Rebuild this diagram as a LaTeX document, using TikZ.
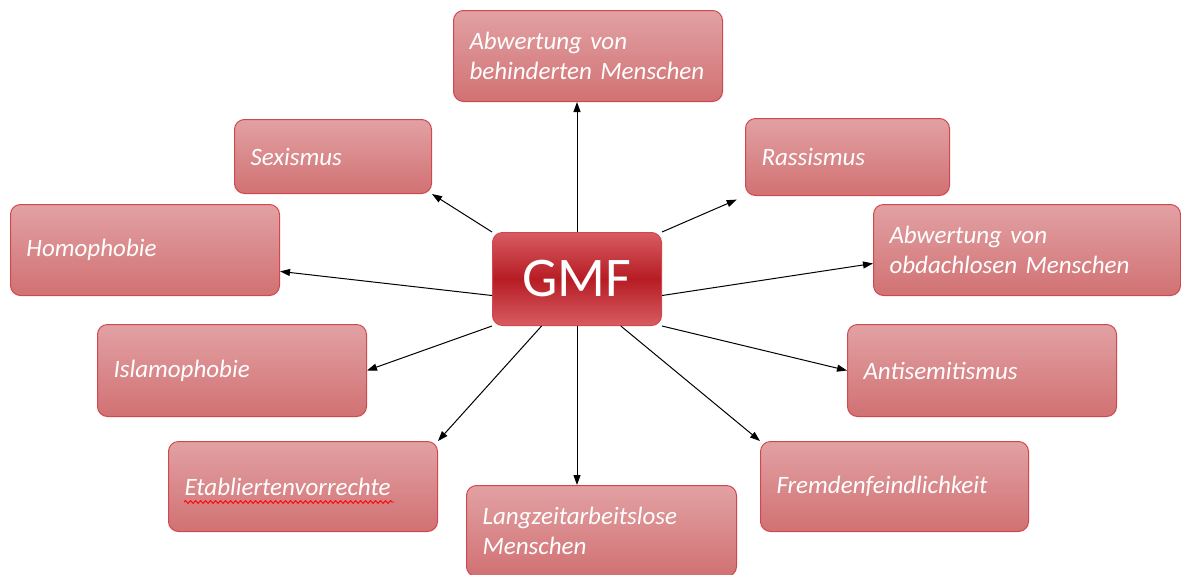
\documentclass[tikz,border=0pt]{standalone}
\usepackage{fontspec}
\setmainfont{Carlito}
\usetikzlibrary{arrows.meta,decorations.pathmorphing}
\definecolor{boxtop}{RGB}{226,161,163}
\definecolor{boxbot}{RGB}{209,113,115}
\definecolor{boxline}{RGB}{208,72,78}
\definecolor{gmfmid}{RGB}{183,28,36}
\definecolor{gmfout}{RGB}{215,92,97}

\begin{document}
\begin{tikzpicture}[x=1pt,y=-1pt,
  box/.style={draw=boxline, line width=1pt, rounded corners=10pt,
    top color=boxtop, bottom color=boxbot, text=white, anchor=north west,
    inner xsep=16pt, align=left, font=\fontsize{25}{30}\selectfont\itshape},
  gmf/.style={draw=boxline, line width=1pt, rounded corners=10pt,
    top color=gmfout, bottom color=gmfout, middle color=gmfmid, text=white,
    anchor=north west, minimum width=169pt, minimum height=93pt,
    font=\fontsize{56}{60}\selectfont},
  arr/.style={-{Triangle[length=10pt,width=7pt]}, line width=1pt}]
\useasboundingbox (0,0) rectangle (1181,574);

\node[gmf] (gmf) at (492,232) {GMF};

\node[box, minimum width=269pt, minimum height=91pt, text width=237pt] (beh) at (453,10) {Abwertung von\\behinderten Menschen};
\node[box, minimum width=197pt, minimum height=74pt, text width=165pt] (sex) at (234,119) {Sexismus};
\node[box, minimum width=204pt, minimum height=77pt, text width=172pt] (ras) at (745,118) {Rassismus};
\node[box, minimum width=269pt, minimum height=91pt, text width=237pt] (homo) at (10,204) {Homophobie};
\node[box, minimum width=307pt, minimum height=91pt, text width=275pt] (obd) at (873,204) {Abwertung von\\obdachlosen Menschen};
\node[box, minimum width=269pt, minimum height=92pt, text width=237pt] (isl) at (97,324) {Islamophobie};
\node[box, minimum width=269pt, minimum height=92pt, text width=237pt] (anti) at (847,324) {Antisemitismus};
\node[box, minimum width=269pt, minimum height=90pt, text width=237pt] (etab) at (168,441) {Etabliertenvorrechte};
\node[box, minimum width=268pt, minimum height=90pt, text width=236pt] (frem) at (760,441) {Fremdenfeindlichkeit};
\node[box, minimum width=270pt, minimum height=91pt, text width=238pt] (lang) at (466,485) {Langzeitarbeitslose\\Menschen};

% spell check underline
\draw[red, line width=0.9pt, decorate, decoration={snake, amplitude=1.4pt, segment length=5pt}] (184,502) -- (394,502);

\draw[arr] (gmf.north) -- (gmf.north |- beh.south);
\draw[arr] (gmf.north west) -- (sex.south east);
\draw[arr, shorten >=9pt] (gmf.north east) -- (ras.south west);
\draw[arr] (gmf.191) -- (homo.-9);
\draw[arr] (gmf.-11) -- (obd.185);
\draw[arr] (gmf.south west) -- (isl.east);
\draw[arr] (gmf.south east) -- (anti.west);
\draw[arr] (gmf.233) -- (etab.north east);
\draw[arr] (gmf.south) -- (gmf.south |- lang.north);
\draw[arr] (gmf.-47) -- (frem.north west);
\end{tikzpicture}
\end{document}
